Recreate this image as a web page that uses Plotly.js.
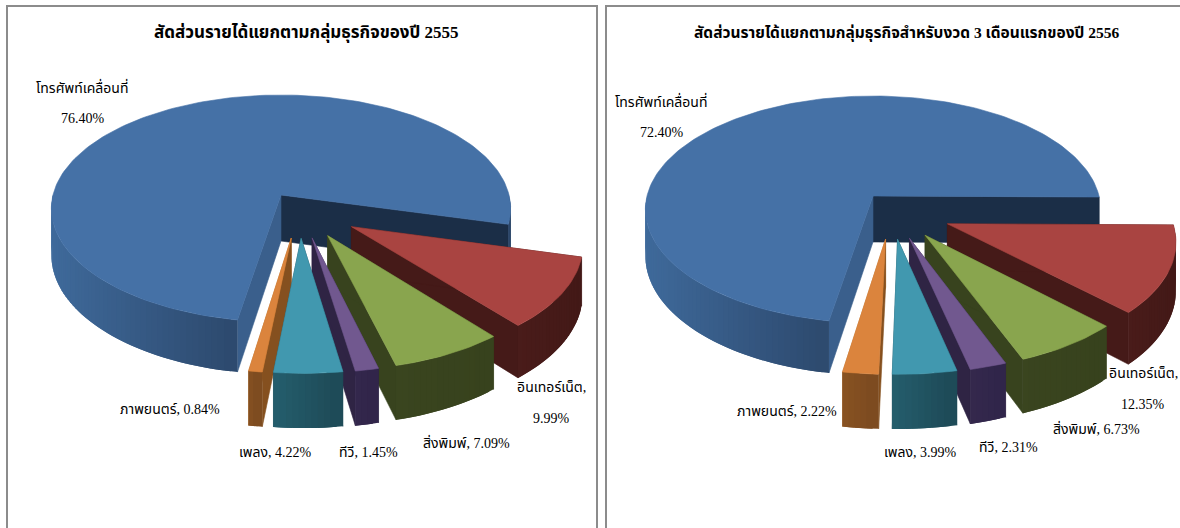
<!DOCTYPE html>
<html><head><meta charset="utf-8">
<script src="https://cdn.plot.ly/plotly-3.0.1.min.js"></script>
<style>html,body{margin:0;padding:0;background:#fff;overflow:hidden}#c{width:1180px;height:528px}</style>
</head><body><div id="c"></div>
<script>
const categories = ["โทรศัพท์เคลื่อนที่","อินเทอร์เน็ต","สิ่งพิมพ์","ทีวี","เพลง","ภาพยนตร์"];
const values2555 = [76.40,9.99,7.09,1.45,4.22,0.84];
const values2556 = [72.40,12.35,6.73,2.31,3.99,2.22];
const title2555 = "สัดส่วนรายได้แยกตามกลุ่มธุรกิจของปี 2555";
const title2556 = "สัดส่วนรายได้แยกตามกลุ่มธุรกิจสำหรับงวด 3 เดือนแรกของปี 2556";

const topColors  = ["#4571a6","#a94441","#89a54e","#71588f","#4198af","#db843d"];
const cutColors  = ["#1b2e47","#451a18","#38431e","#2f2444","#1f4a57","#b4702f"];
const sideColors = ["#3a5f8c","#451a18","#38431e","#2f2444","#1f4a57","#85501f"];
const wallFrom   = ["#3f6a9b","#4a1c1a","#3a451f","#35294d","#25606f","#8a5422"];
const wallTo     = ["#2b4669","#431917","#37421d","#30254a","#1e4a57","#7c4a20"];
const paintOrder = [0,1,2,3,5,4];
const FONT = '"Liberation Serif","Noto Sans Thai","Noto Sans",serif';

const P=0.119, RY=111.9, DEPTH=46, PULL_U=0.26, PULL_V=0.21, SHIFT_U=0.08, SHIFT_V=0.16, WEDGE_R=0.97;
const rad=d=>d*Math.PI/180;
const hex=c=>[1,3,5].map(i=>parseInt(c.substr(i,2),16));
const mix=(a,b,t)=>{const A=hex(a),B=hex(b);return 'rgb('+A.map((v,i)=>Math.round(v+(B[i]-v)*t)).join(',')+')';};

function poly(xs,ys,color,edge){
  return {type:'scatter',mode:'lines',x:xs.concat(xs[0]),y:ys.concat(ys[0]),fill:'toself',fillcolor:color,
    line:{color:color,width:edge===undefined?0.6:edge},hoverinfo:'skip',showlegend:false};
}
function pieTraces(values,cx,cy,rx,startDeg){
  const project=(u,v)=>{const w=1-P*v;return {x:cx+rx*u/w,y:cy+RY*v/w,d:DEPTH/w};};
  let a=startDeg; const slices=values.map((val,i)=>{const s={i,a0:a,a1:a+val*3.6};a=s.a1;return s;});
  const out=[];
  paintOrder.forEach(i=>{
    const s=slices[i], mid=rad((s.a0+s.a1)/2);
    const pulled=i>0, r=pulled?WEDGE_R:1;
    const u0=pulled?SHIFT_U+PULL_U*Math.cos(mid):0, v0=pulled?SHIFT_V+PULL_V*Math.sin(mid):0;
    const edge=t=>project(u0+r*Math.cos(rad(t)),v0+r*Math.sin(rad(t)));
    const apex=project(u0,v0);
    const n=Math.max(3,Math.ceil((s.a1-s.a0)/1.5));
    const angs=[];for(let k=0;k<=n;k++)angs.push(s.a0+(s.a1-s.a0)*k/n);
    const pts=angs.map(edge);
    const face=(p,c)=>poly([apex.x,p.x,p.x,apex.x],[apex.y,p.y,p.y+p.d,apex.y+apex.d],c);
    out.push(face(pts[n],cutColors[i]));
    out.push(face(pts[0],sideColors[i]));
    // rim: only the part that faces the viewer, shaded along the screen x; each strip overlaps the next
    const front=t=>Math.sin(rad(t))>=-0.01;
    const xs=pts.map(p=>p.x), minX=Math.min(...xs), maxX=Math.max(...xs);
    const idx=[];for(let k=0;k<n;k++)if(front(angs[k])&&front(angs[k+1]))idx.push(k);
    // paint from the far end so that every strip's overlap is covered by the one after it
    idx.slice().reverse().forEach(k=>{
      const p=pts[k],q=pts[Math.min(n,k+2)];
      const t=(maxX>minX)?((pts[k].x+pts[k+1].x)/2-minX)/(maxX-minX):0;
      const q2=front(angs[Math.min(n,k+2)])?q:pts[k+1];
      out.push(poly([p.x,q2.x,q2.x,p.x],[p.y,q2.y,q2.y+q2.d,p.y+p.d],mix(wallFrom[i],wallTo[i],i===0?Math.min(1,t*2.2):t),0));
    });
    out.push(poly([apex.x].concat(pts.map(p=>p.x)),[apex.y].concat(pts.map(p=>p.y)),topColors[i]));
  });
  return out;
}
const pct=v=>v.toFixed(2)+'%';
function note(text,x,y,size,bold){
  return {xref:'x',yref:'y',x,y,text:bold?'<b>'+text+'</b>':text,showarrow:false,xanchor:'center',yanchor:'middle',
    font:{family:FONT,size:size,color:'#000'}};
}
function labels(values,pos){
  const a=[];
  values.forEach((v,i)=>{
    const p=pos[i];
    if(p.length===4){a.push(note(categories[i]+(i?',':''),p[0],p[1],14));a.push(note(pct(v),p[2],p[3],14));}
    else a.push(note(categories[i]+', '+pct(v),p[0],p[1],14));
  });
  return a;
}
const labelPos2555=[[82,87,83,118],[551,387,551,418],[466,442],[368,452],[275,452],[170,409]];
const labelPos2556=[[661,101,662,132],[1143,373,1143,404],[1096,428],[1008,447],[920,452],[787,411]];

const traces=pieTraces(values2555,281,195,228,99.7).concat(pieTraces(values2556,873,196,226,99.9));
const hidden={visible:false,fixedrange:true};
const layout={
  width:1180,height:528,margin:{l:0,r:0,t:0,b:0},paper_bgcolor:'#fff',plot_bgcolor:'#fff',showlegend:false,
  xaxis:Object.assign({range:[0,1180]},hidden),yaxis:Object.assign({range:[528,0]},hidden),
  shapes:[
    {type:'rect',xref:'x',yref:'y',x0:7,x1:597,y0:6,y1:540,line:{color:'#8c8c8c',width:2},layer:'below'},
    {type:'rect',xref:'x',yref:'y',x0:606,x1:1200,y0:6,y1:540,line:{color:'#8c8c8c',width:2},layer:'below'}
  ],
  annotations:[note(title2555,306,32,17,true),note(title2556,906,33,15.5,true)]
    .concat(labels(values2555,labelPos2555),labels(values2556,labelPos2556))
};
Plotly.newPlot('c',traces,layout,{displayModeBar:false,staticPlot:true});
</script></body></html>
